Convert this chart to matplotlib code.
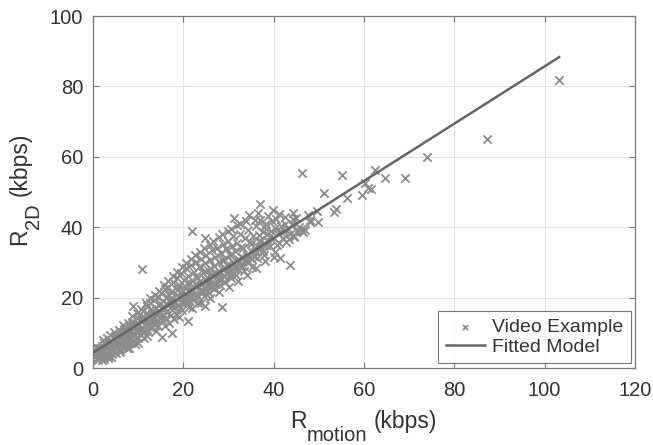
import matplotlib
matplotlib.use("Agg")
import matplotlib.pyplot as plt
from matplotlib.transforms import IdentityTransform
import numpy as np

plt.rcParams['font.family'] = ['Liberation Sans', 'DejaVu Sans']

# Scatter data (R_motion kbps, R_2D kbps)
pts = [
    (0.3,3.5),(0.5,4.8),(0.8,2.9),(1.0,4.1),(1.2,5.6),(1.4,3.2),(1.6,4.6),(1.9,6.2),(2.1,3.8),(2.3,5.1),
    (2.5,2.6),(2.7,6.8),(2.9,4.4),(3.1,5.9),(3.3,3.5),(3.5,7.1),(3.7,4.9),(3.9,6.3),(4.1,3.9),(4.3,7.6),
    (4.5,5.4),(4.7,8.2),(4.9,6.0),(5.1,4.3),(5.3,7.9),(5.5,6.6),(5.7,9.1),(5.9,5.2),(6.1,8.4),(6.3,7.0),
    (6.5,10.2),(6.7,6.1),(6.9,8.9),(7.1,7.4),(7.3,11.3),(7.5,5.8),(7.7,9.6),(7.9,8.1),(8.1,12.0),(8.3,7.0),
    (8.5,10.4),(8.7,13.2),(8.9,9.0),(9.1,11.7),(9.3,6.9),(9.5,10.9),(9.7,14.1),(9.9,8.6),(10.1,12.5),(10.3,15.4),
    (10.5,9.8),(10.7,13.6),(10.9,11.0),(11.1,16.3),(11.3,8.4),(11.5,14.2),(11.7,12.1),(11.9,17.5),(12.1,10.3),(12.3,15.0),
    (12.5,13.1),(12.7,18.4),(12.9,11.5),(13.1,16.2),(13.3,14.0),(13.5,19.3),(13.7,12.2),(13.9,17.0),(14.1,15.1),(14.3,20.1),
    (14.5,11.8),(14.7,18.0),(14.9,16.0),(15.1,21.2),(15.3,13.6),(15.5,19.0),(15.7,16.9),(15.9,22.4),(16.1,14.3),(16.3,20.3),
    (16.5,17.8),(16.7,23.1),(16.9,12.9),(17.1,19.6),(17.3,21.7),(17.5,16.5),(17.7,24.3),(17.9,18.8),(18.1,22.6),(18.3,15.2),
    (18.5,20.7),(18.7,25.6),(18.9,17.9),(19.1,23.5),(19.3,19.9),(19.5,27.0),(19.7,16.4),(19.9,21.8),(20.1,25.0),(20.3,18.7),
    (20.5,23.0),(20.7,28.4),(20.9,20.2),(21.1,26.1),(21.3,17.3),(21.5,24.2),(21.7,29.3),(21.9,22.0),(22.1,19.4),(22.3,27.2),
    (22.5,23.9),(22.7,30.2),(22.9,21.1),(23.1,25.7),(23.3,18.6),(23.5,28.6),(23.7,24.8),(23.9,31.0),(24.1,22.3),(24.3,26.9),
    (24.5,20.5),(24.7,29.8),(24.9,25.4),(25.1,32.1),(25.3,23.2),(25.5,27.8),(25.7,21.4),(25.9,30.7),(26.1,26.3),(26.3,33.4),
    (26.5,24.0),(26.7,29.0),(26.9,22.5),(27.1,31.6),(27.3,27.1),(27.5,34.0),(27.7,25.2),(27.9,30.0),(28.1,23.6),(28.3,32.8),
    (28.5,28.2),(28.7,35.3),(28.9,26.0),(29.1,31.0),(29.3,24.4),(29.5,33.9),(29.7,29.2),(29.9,36.2),(30.1,27.3),(30.3,32.0),
    (30.5,25.5),(30.7,34.7),(30.9,30.1),(31.1,37.4),(31.3,28.0),(31.5,33.1),(31.7,26.3),(31.9,35.6),(32.1,31.0),(32.5,38.0),
    (32.8,29.1),(33.1,34.0),(33.4,27.5),(33.7,36.8),(34.0,32.0),(34.3,39.2),(34.6,30.0),(34.9,35.2),(35.2,28.6),(35.5,37.6),
    (35.8,33.0),(36.1,40.4),(36.4,31.3),(36.7,36.0),(37.0,42.0),(37.3,34.0),(37.6,38.6),(37.9,32.2),(38.2,40.8),(38.5,36.4),
    (38.8,43.1),(39.1,34.6),(39.4,39.0),(39.7,41.8),(40.0,36.8),(40.3,33.0),(40.6,42.3),(40.9,38.1),(41.2,35.5),(41.6,40.2),
    (42.0,37.0),(42.4,41.0),(42.8,35.8),(43.2,39.6),(43.6,38.2),(44.0,40.8),(44.5,37.6),(45.0,42.6),(45.5,40.0),(46.0,39.5),
    (1.5,5.6),(2.0,4.9),(3.0,6.1),(4.0,7.0),(5.0,8.3),(6.0,8.8),(7.0,10.3),(8.0,10.2),(9.0,11.9),(10.0,12.1),
    (11.0,13.7),(12.0,13.8),(13.0,15.4),(14.0,15.3),(15.0,17.0),(16.0,17.1),(17.0,18.7),(18.0,18.6),(19.0,20.2),(20.0,20.3),
    (21.0,21.9),(22.0,21.8),(23.0,23.5),(24.0,23.5),(25.0,25.0),(26.0,25.1),(27.0,26.7),(28.0,26.7),(29.0,28.3),(30.0,28.4),
    (31.0,30.0),(32.0,29.9),(33.0,31.6),(34.0,31.5),(35.0,33.2),(36.0,33.2),
    (2.4,7.2),(3.6,5.2),(4.8,9.0),(5.6,7.4),(6.8,11.0),(7.6,8.7),(8.8,12.3),(9.6,10.1),(10.8,14.6),(11.6,11.9),
    (12.8,16.8),(13.6,14.4),(14.8,18.4),(15.6,15.3),(16.8,20.6),(17.6,17.7),(18.8,22.4),(19.6,18.6),(20.8,24.1),(21.6,20.4),
    (22.8,26.0),(23.6,22.0),(24.8,27.6),(25.6,23.6),(26.8,28.9),(27.6,26.0),(28.8,30.4),(29.6,27.0),(30.8,32.4),(31.6,28.5),
    (32.8,34.3),(33.6,30.6),(34.8,35.9),(35.6,31.8),(36.8,37.8),(37.6,33.2),
    (0.6,5.9),(1.1,2.4),(1.8,3.0),(2.2,7.9),(2.6,4.0),(3.2,8.5),(3.4,2.9),(3.8,9.3),(4.2,5.0),(4.6,10.2),
    (5.2,5.9),(5.8,10.9),(6.2,6.4),(6.6,12.1),(7.2,7.8),(7.8,12.9),(8.2,8.6),(8.6,14.7),(9.2,9.5),(9.8,15.6),
    (10.2,10.9),(10.6,16.9),(11.2,10.1),(11.8,18.6),(12.2,12.6),(12.6,19.8),(13.2,13.1),(13.8,20.8),(14.2,13.5),(14.6,22.0),
    (15.2,14.6),(15.8,23.6),(16.2,16.0),(16.6,24.7),(17.2,15.0),(17.8,26.0),(18.2,17.2),(18.6,27.3),(19.2,17.0),(19.8,28.6),
    (20.2,19.5),(20.6,29.9),(21.2,19.0),(21.8,31.1),(22.2,21.0),(22.6,32.0),(23.2,20.3),(23.8,33.0),(24.2,21.6),(24.6,34.2),
    (25.2,22.2),(25.8,35.0),(26.2,23.0),(26.6,36.0),(27.2,24.0),(27.8,37.2),(28.2,25.0),(28.6,38.0),(29.2,26.2),(29.8,38.8),
    (30.2,26.0),(30.6,39.6),(31.2,27.0),(31.8,40.6),(32.2,28.0),(32.6,41.0),(33.2,29.0),(33.8,41.8),(34.2,30.8),(34.6,43.5),
    (35.2,31.0),(35.8,42.0),(36.2,34.6),(36.6,44.0),(37.2,36.2),(37.8,40.0),(38.2,35.0),(38.6,38.2),(39.2,37.5),(39.8,44.8),
    (40.2,39.8),(40.8,35.0),(41.4,38.8),(42.2,39.0),(42.6,43.0),(43.4,36.6),(44.2,42.2),(45.2,38.8),
    (12.0,9.0),(14.0,10.5),(16.0,12.0),(18.0,13.8),(19.0,14.6),(22.0,17.0),(24.0,18.6),(26.0,20.0),(28.0,21.5),(30.0,23.0),
    (32.0,24.8),(34.0,26.5),(36.0,28.5),(38.0,30.5),(40.0,31.5),(6.0,4.5),(8.0,5.6),(10.0,7.2),(4.0,3.0),(2.0,2.2),
    (46.5,38.7),(48.0,42.0),(49.8,41.6),(47.6,43.5),(49.6,44.7),(48.0,41.6),(46.9,39.2),(46.2,39.0),(44.3,43.9),
    (44.5,37.3),(41.2,43.7),(53.7,45.1),(53.3,44.2),(56.3,48.4),(59.6,49.1),(60.3,52.5),(60.9,51.1),(61.6,50.8),
    (62.4,56.2),(64.6,54.0),(69.0,54.0),(73.9,59.9),(87.2,65.0),(103.2,81.8),(55.2,54.8),(46.2,55.3),(51.1,49.6),
    (10.9,28.0),(22.0,38.9),(24.8,37.0),(31.2,42.5),(36.9,46.6),(8.9,17.6),
    (15.3,8.9),(17.4,10.0),(21.1,13.4),(24.8,17.7),(28.6,17.2),(41.5,31.2),(43.6,29.3),
]
r_motion = [p[0] for p in pts]
r_2d = [p[1] for p in pts]

# Fitted model
fit_x = [0, 103.2]
fit_intercept = 4.3
fit_slope = 0.814

W_PX, H_PX = 653, 445
fig = plt.figure(figsize=(W_PX / 100, H_PX / 100), dpi=100)
ax = fig.add_axes([93 / W_PX, 1 - 368 / H_PX, 542 / W_PX, 352 / H_PX])

ax.grid(True, color='#e3e3e3', linewidth=0.8)
ax.set_axisbelow(True)

ax.scatter(r_motion, r_2d, marker='x', s=36, linewidths=1.3, color='#8c8c8c',
           label='Video Example', zorder=2)
fx = np.array(fit_x)
ax.plot(fx, fit_intercept + fit_slope * fx, color='#666666', linewidth=1.8,
        label='Fitted Model', zorder=3)

ax.set_xlim(0, 120)
ax.set_ylim(0, 100)
ax.set_xticks([0, 20, 40, 60, 80, 100, 120])
ax.set_yticks([0, 20, 40, 60, 80, 100])

for s in ax.spines.values():
    s.set_color('#7a7a7a')
    s.set_linewidth(0.9)
ax.tick_params(direction='in', top=True, right=True, length=4, width=0.8,
               color='#7a7a7a', labelsize=14.5, labelcolor='#333333')
ax.tick_params(axis='x', pad=9.5)
ax.tick_params(axis='y', pad=7)

leg = ax.legend(loc='lower right', bbox_to_anchor=((631 - 93) / 542, (368 - 363) / 352),
                borderaxespad=0, fontsize=14, frameon=True, fancybox=False,
                edgecolor='#555555', borderpad=0.38, handlelength=2.05,
                handletextpad=0.36, labelspacing=0.1, markerscale=0.6)
leg.get_frame().set_linewidth(0.8)
for t in leg.get_texts():
    t.set_color('#333333')

# Axis labels with large (MATLAB-style) subscripts, placed in pixel coordinates
fig.canvas.draw()
renderer = fig.canvas.get_renderer()
MAIN, SUB, DROP = 16.5, 14.5, 13.0
LCOL = '#333333'

def text_w(s, size):
    t = fig.text(0, 0, s, fontsize=size)
    w = t.get_window_extent(renderer).width
    t.remove()
    return w

def composite(base, sub, rest, center, baseline, vertical):
    w1, w2, w3 = text_w(base, MAIN), text_w(sub, SUB), text_w(rest, MAIN)
    gap = 0.3 * MAIN * 100 / 72
    total = w1 + w2 + gap + w3
    start = center - total / 2
    parts = [(base, MAIN, start, 0), (sub, SUB, start + w1, DROP),
             (rest, MAIN, start + w1 + w2 + gap, 0)]
    for s, size, pos, drop in parts:
        if vertical:
            fig.text(baseline + drop, pos, s, fontsize=size, color=LCOL,
                     rotation=90, rotation_mode='anchor', ha='left', va='baseline',
                     transform=IdentityTransform())
        else:
            fig.text(pos, baseline - drop, s, fontsize=size, color=LCOL,
                     ha='left', va='baseline', transform=IdentityTransform())

composite('R', 'motion', '(kbps)', 363.5, H_PX - 428, vertical=False)
composite('R', '2D', '(kbps)', H_PX - 189, 26.5, vertical=True)

fig.savefig('out.png', dpi=100)
